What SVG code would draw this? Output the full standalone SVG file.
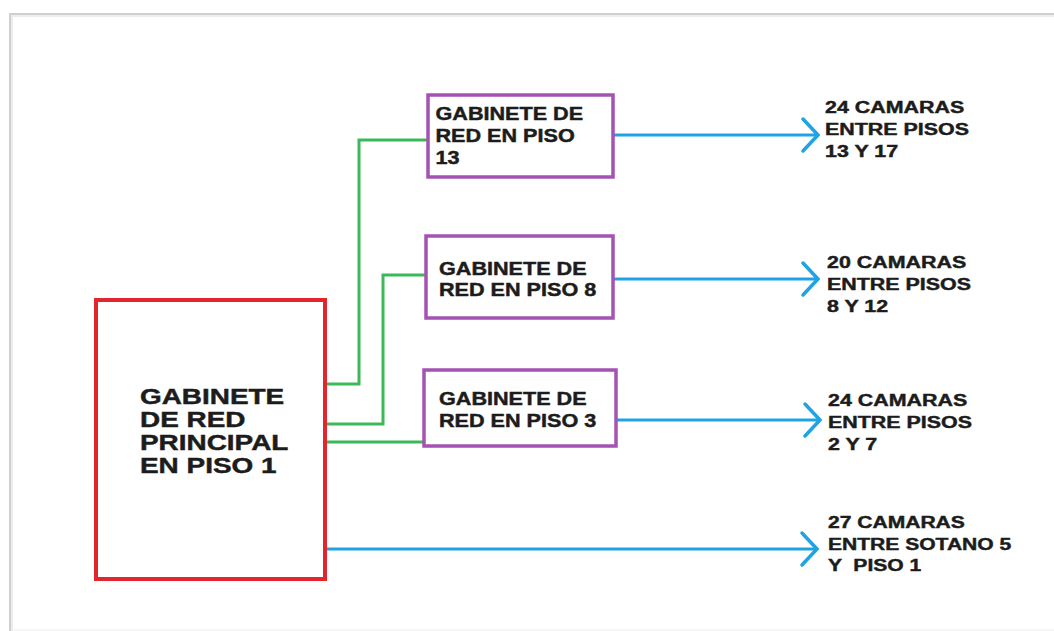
<svg xmlns="http://www.w3.org/2000/svg" width="1054" height="631" viewBox="0 0 1054 631">
<style>
  .t { font-family: "Liberation Sans", Arial, sans-serif; font-weight: bold; fill: #1c1c1c; stroke: #1c1c1c; stroke-width: 0.45; white-space: pre; }
  .main { font-size: 22px; }
  .box { font-size: 18px; }
  .lbl { font-size: 17px; }
  .red { fill: #ffffff; stroke: #e3262e; stroke-width: 4; }
  .pur { fill: #ffffff; stroke: #a453b2; stroke-width: 3.5; }
  .green { fill: none; stroke: #3bb857; stroke-width: 3; stroke-linejoin: miter; }
  .blue { fill: none; stroke: #1fa3e2; stroke-width: 3; marker-end: url(#chev); }
</style>
<defs>
  <marker id="chev" markerUnits="userSpaceOnUse" markerWidth="24" markerHeight="40" refX="17" refY="18" orient="auto" overflow="visible">
    <path d="M2,2 L17,18 L2,34" fill="none" stroke="#1fa3e2" stroke-width="3.5" stroke-linecap="round" stroke-linejoin="miter"/>
  </marker>
</defs>
<rect x="0" y="0" width="1054" height="631" fill="#ffffff"/>
<g id="page">
  <path d="M10,631 L10,14 L1054,14" fill="none" stroke="#cfcfcf" stroke-width="2"/>
  <path d="M12,631 L12,16 L1054,16" fill="none" stroke="#ececec" stroke-width="2"/>
  <line x1="12" y1="630" x2="1054" y2="630" stroke="#ececec" stroke-width="1"/>
</g>
<g id="connectors">
  <path class="green" d="M327,384 L359,384 L359,140 L428,140"/>
  <path class="green" d="M327,424 L383,424 L383,275 L426,275"/>
  <path class="green" d="M327,442 L424,442"/>
  <line class="blue" x1="613" y1="135" x2="818" y2="135"/>
  <line class="blue" x1="613" y1="279" x2="818" y2="279"/>
  <line class="blue" x1="616" y1="420" x2="820" y2="420"/>
  <line class="blue" x1="325" y1="549" x2="817" y2="549"/>
</g>
<g id="main">
  <rect class="red" x="96" y="300" width="229" height="279"/>
  <text class="t main" transform="translate(140 0) scale(1.27 1)">
    <tspan x="0" y="404.5">GABINETE</tspan>
    <tspan x="0" y="427.5">DE RED</tspan>
    <tspan x="0" y="450.5">PRINCIPAL</tspan>
    <tspan x="0" y="473.5">EN PISO 1</tspan>
  </text>
</g>
<g id="piso13">
  <rect class="pur" x="428" y="95" width="185" height="82"/>
  <text class="t box" transform="translate(435.5 0) scale(1.2 1)">
    <tspan x="0" y="120.5">GABINETE DE</tspan>
    <tspan x="0" y="142.5">RED EN PISO</tspan>
    <tspan x="0" y="164.5">13</tspan>
  </text>
</g>
<g id="piso8">
  <rect class="pur" x="426" y="236" width="187" height="82"/>
  <text class="t box" transform="translate(439 0) scale(1.2 1)">
    <tspan x="0" y="275">GABINETE DE</tspan>
    <tspan x="0" y="296.5">RED EN PISO 8</tspan>
  </text>
</g>
<g id="piso3">
  <rect class="pur" x="424" y="370" width="192" height="76"/>
  <text class="t box" transform="translate(439 0) scale(1.2 1)">
    <tspan x="0" y="405.5">GABINETE DE</tspan>
    <tspan x="0" y="427">RED EN PISO 3</tspan>
  </text>
</g>
<g id="lbl1">
  <text class="t lbl" transform="translate(825 0) scale(1.26 1)">
    <tspan x="0" y="113">24 CAMARAS</tspan>
    <tspan x="0" y="135">ENTRE PISOS</tspan>
    <tspan x="0" y="157">13 Y 17</tspan>
  </text>
</g>
<g id="lbl2">
  <text class="t lbl" transform="translate(827 0) scale(1.26 1)">
    <tspan x="0" y="268.5">20 CAMARAS</tspan>
    <tspan x="0" y="290">ENTRE PISOS</tspan>
    <tspan x="0" y="312">8 Y 12</tspan>
  </text>
</g>
<g id="lbl3">
  <text class="t lbl" transform="translate(828 0) scale(1.26 1)">
    <tspan x="0" y="406.5">24 CAMARAS</tspan>
    <tspan x="0" y="428">ENTRE PISOS</tspan>
    <tspan x="0" y="450">2 Y 7</tspan>
  </text>
</g>
<g id="lbl4">
  <text class="t lbl" transform="translate(828 0) scale(1.24 1)">
    <tspan x="0" y="528">27 CAMARAS</tspan>
    <tspan x="0" y="550">ENTRE SOTANO 5</tspan>
    <tspan x="0" y="571.5">Y  PISO 1</tspan>
  </text>
</g>
</svg>
